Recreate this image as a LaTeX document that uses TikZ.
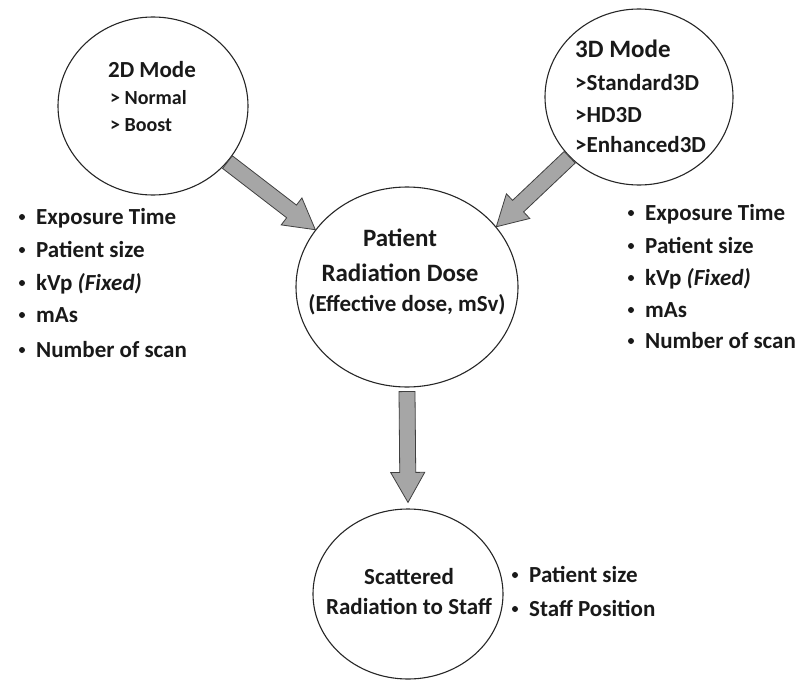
\documentclass[tikz,border=0pt]{standalone}
\usepackage{fontspec}
\setmainfont{Carlito}
\usetikzlibrary{shapes.geometric,calc}
\tikzset{
  bub/.style={ellipse, draw=black!85, line width=1.1pt, inner sep=0pt},
  txt/.style={font=\bfseries\fontsize{23}{27}\selectfont, inner sep=0pt, text=black!90},
  big/.style={font=\bfseries\fontsize{25}{29}\selectfont, inner sep=0pt, text=black!90},
  sub/.style={font=\bfseries\fontsize{20}{24}\selectfont, inner sep=0pt, text=black!90},
  dot/.style={circle, fill=black!90, inner sep=0pt, minimum size=6pt},
  barrow/.style={draw=black!75, fill=black!35, line width=0.8pt, line join=miter},
}
\newcommand\blockarrow[2]{%
  \coordinate (h) at ($(#2)!30pt!(#1)$);
  \draw[barrow] ($(#1)!8pt!90:(#2)$) -- ($(h)!8pt!90:(#2)$) -- ($(h)!17pt!90:(#2)$) -- (#2)
    -- ($(h)!17pt!-90:(#2)$) -- ($(h)!8pt!-90:(#2)$) -- ($(#1)!8pt!-90:(#2)$) -- cycle;}
\begin{document}
\begin{tikzpicture}[x=1pt,y=-1pt]
\useasboundingbox (0,0) rectangle (803,680);
% circles
\node[bub, minimum width=190pt, minimum height=178pt] (d2) at (153,106) {};
\node[bub, minimum width=188pt, minimum height=176pt] (d3) at (639,97) {};
\node[bub, minimum width=222pt, minimum height=200pt] (pat) at (407,287) {};
\node[bub, minimum width=190pt, minimum height=170pt] (sc) at (408,594) {};
% arrows
\coordinate (a1s) at (d2.-37);
\coordinate (a1e) at (pat.148);
\coordinate (a2s) at (d3.221);
\coordinate (a2e) at (pat.34);
\coordinate (a3s) at ($(pat.south)+(0,4)$);
\coordinate (a3e) at ($(sc.north)+(0,-6)$);
\blockarrow{a1s}{a1e}
\blockarrow{a2s}{a2e}
\blockarrow{a3s}{a3e}
% 2D text
\node[txt, anchor=base] (t2a) at (152,77) {2D Mode};
\node[sub, anchor=base west] (t2b) at (110,104) {> Normal};
\node[sub, anchor=base west] (t2c) at (110,131) {> Boost};
% 3D text
\node[big, anchor=base west] (t3a) at (575,57) {3D Mode};
\node[txt, anchor=base west] (t3b) at (575,90) {>Standard3D};
\node[txt, anchor=base west] (t3c) at (575,122) {>HD3D};
\node[txt, anchor=base west] (t3d) at (575,152) {>Enhanced3D};
% patient text
\node[big, anchor=base] (tpa) at (400,246) {Patient};
\node[big, anchor=base] (tpb) at (400,281) {Radiation Dose};
\node[txt, anchor=base] (tpc) at (407,311) {(Effective dose, mSv)};
% scattered text
\node[txt, anchor=base] (tsa) at (409,584) {Scattered};
\node[txt, anchor=base] (tsb) at (409,614) {Radiation to Staff};
% left list
\foreach \y/\t [count=\i] in {224/Exposure Time, 257/Patient size, 290/{kVp \textit{(Fixed)}}, 322/mAs, 357/Number of scan}{
  \node[dot] (lb\i) at (22,\y-7) {};
  \node[txt, anchor=base west] (lt\i) at (36,\y) {\t};
}
% right list
\foreach \y/\t [count=\i] in {220/Exposure Time, 253/Patient size, 285/{kVp \textit{(Fixed)}}, 317/mAs, 348/Number of scan}{
  \node[dot] (rb\i) at (631,\y-7) {};
  \node[txt, anchor=base west] (rt\i) at (645,\y) {\t};
}
% scattered list
\foreach \y/\t [count=\i] in {582/Patient size, 616/Staff Position}{
  \node[dot] (sb\i) at (515,\y-7) {};
  \node[txt, anchor=base west] (st\i) at (529,\y) {\t};
}
\end{tikzpicture}
\end{document}
